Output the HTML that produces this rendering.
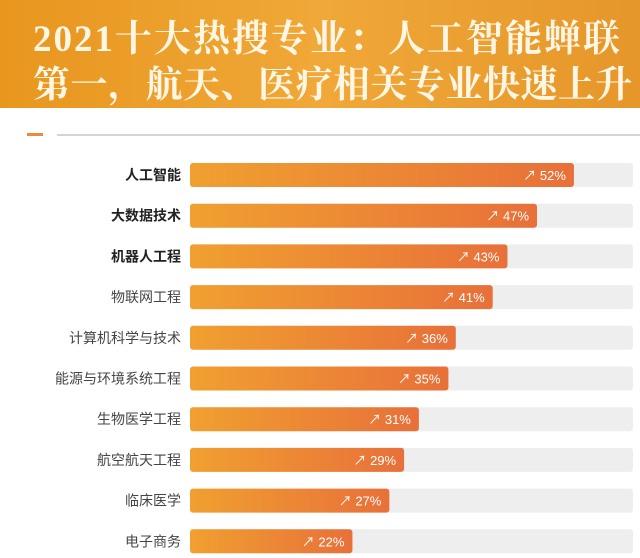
<!DOCTYPE html>
<html><head><meta charset="utf-8"><style>
body{margin:0;width:640px;height:558px;background:#fff;overflow:hidden;position:relative;font-family:"Liberation Sans","Noto Sans CJK SC",sans-serif}
#hdr{position:absolute;left:0;top:0;width:640px;height:108px;background:linear-gradient(90deg,#e8961e,#f0a838 50%,#e6962a)}
.t{position:absolute;left:33px;color:#fff6e4;font-family:"Liberation Serif","Noto Serif CJK SC",serif;font-weight:bold;font-size:37px;white-space:nowrap}
</style></head><body>
<div id="hdr">
<div class="t" style="top:8px;letter-spacing:2px">2021十大热搜专业：人工智能蝉联</div>
<div class="t" style="top:54px;letter-spacing:0.5px">第一，航天、医疗相关专业快速上升</div>
</div>
<div style="position:absolute;left:27px;top:133px;width:16px;height:3px;background:#eb8a3a"></div>
<div style="position:absolute;left:57px;top:134px;width:583px;height:2px;background:#d4d4d4"></div>
<svg id="c" width="640" height="558" style="position:absolute;left:0;top:0"></svg>
<script>
const categories=["人工智能","大数据技术","机器人工程","物联网工程","计算机科学与技术","能源与环境系统工程","生物医学工程","航空航天工程","临床医学","电子商务"];
const values=[52,47,43,41,36,35,31,29,27,22];
const maxVal=60;
const NS="http://www.w3.org/2000/svg";
const svg=document.getElementById('c');
const x0=190,x1=633,y0=175,step=40.7,bh=24;
function xs(v){return x0+(x1-x0)*v/maxVal;}
function ys(i){return y0+i*step;}
const defs=document.createElementNS(NS,'defs');
defs.innerHTML='<linearGradient id="g" x1="0" x2="1"><stop offset="0" stop-color="#f0a030"/><stop offset="1" stop-color="#e8703a"/></linearGradient>';
svg.appendChild(defs);
function mk(tag,attrs){const e=document.createElementNS(NS,tag);for(const k in attrs)e.setAttribute(k,attrs[k]);svg.appendChild(e);return e;}
categories.forEach((c,i)=>{
 const cy=ys(i);
 const tr=mk('rect',{x:x0,y:cy-bh/2,width:x1-x0,height:bh,rx:3,fill:'#eeeeee'});
 
 
 const b=mk('rect',{x:x0,y:cy-bh/2,width:xs(values[i])-x0,height:bh,rx:3,fill:'url(#g)'});
 
 
 const lb=mk('text',{x:181,y:cy+5,'text-anchor':'end','font-size':14,fill:i<3?'#222':'#444','font-weight':i<3?'bold':'normal'});
 lb.textContent=c;
 
 
 const v=mk('text',{x:xs(values[i])-8,y:cy+5,'text-anchor':'end','font-size':13,fill:'#fff'});
 v.textContent='\u2197 '+values[i]+'%';
 
 
});
</script>
</body></html>
